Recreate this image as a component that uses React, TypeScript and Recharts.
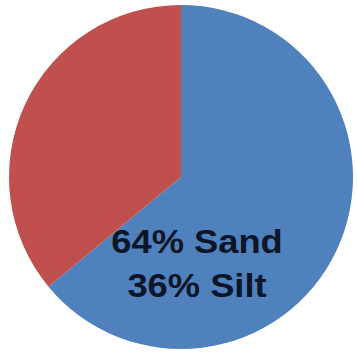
import React from "react";
import { PieChart, Pie, Cell } from "recharts";

const soilTypes = ["Sand", "Silt"];
const soilShares = [64, 36];
const COLORS = ["#4F81BD", "#C0504D"];

const data = soilTypes.map((name, i) => ({ name, value: soilShares[i] }));

// two-line caption laid over the lower part of the pie
const Caption = () => (
  <svg
    width={357}
    height={354}
    style={{ position: "absolute", left: 0, top: 0, pointerEvents: "none" }}
  >
    <g transform="translate(197, 0) scale(1.1, 1)">
      {data.map((d, i) => (
        <text
          key={d.name}
          x={0}
          y={253 + i * 44}
          textAnchor="middle"
          fontFamily="'Liberation Sans', Arial, sans-serif"
          fontWeight="bold"
          fontSize={33}
          fill="#0c1628"
        >
          {`${d.value}% ${d.name}`}
        </text>
      ))}
    </g>
  </svg>
);

const SoilPieChart = () => {
  return (
    <div style={{ position: "absolute", left: 0, top: 0, width: 357, height: 354 }}>
      <PieChart width={357} height={354} margin={{ top: 0, right: 0, bottom: 0, left: 0 }}>
        <Pie
          data={data}
          dataKey="value"
          cx={181}
          cy={177}
          outerRadius={172}
          startAngle={90}
          endAngle={-270}
          stroke="none"
          isAnimationActive={false}
        >
          {data.map((entry, index) => (
            <Cell key={`cell-${index}`} fill={COLORS[index % COLORS.length]} />
          ))}
        </Pie>
      </PieChart>
      <Caption />
    </div>
  );
};

export default function App() {
  return <SoilPieChart />;
}
